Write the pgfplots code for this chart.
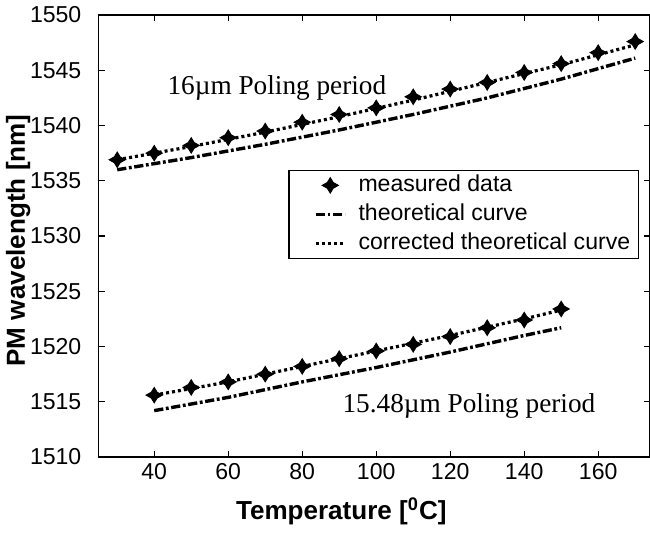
\documentclass[border=0pt]{standalone}
\usepackage{fontspec}
\setmainfont{Liberation Sans}
\newfontfamily\seriffont{Liberation Serif}
\usepackage{pgfplots}
\pgfplotsset{compat=1.18}

% four-pointed filled star used for the measured points
\pgfdeclareplotmark{mstar}{%
  \pgfpathmoveto{\pgfqpoint{0pt}{0.95\pgfplotmarksize}}%
  \pgfpathlineto{\pgfqpoint{0.36\pgfplotmarksize}{0.36\pgfplotmarksize}}%
  \pgfpathlineto{\pgfqpoint{\pgfplotmarksize}{0pt}}%
  \pgfpathlineto{\pgfqpoint{0.36\pgfplotmarksize}{-0.36\pgfplotmarksize}}%
  \pgfpathlineto{\pgfqpoint{0pt}{-0.95\pgfplotmarksize}}%
  \pgfpathlineto{\pgfqpoint{-0.36\pgfplotmarksize}{-0.36\pgfplotmarksize}}%
  \pgfpathlineto{\pgfqpoint{-\pgfplotmarksize}{0pt}}%
  \pgfpathlineto{\pgfqpoint{-0.36\pgfplotmarksize}{0.36\pgfplotmarksize}}%
  \pgfpathclose\pgfusepathqfillstroke}

\pgfplotsset{
  line leg/.style={legend image code/.code={\path (0pt,0pt) (29pt,0pt);\draw[##1] (8.5pt,0pt) -- (23pt,0pt);}},
  mark leg/.style={legend image code/.code={\path (0pt,0pt) (29pt,0pt);\draw[##1] plot coordinates {(15.75pt,0pt)};}},
}

\pgfplotstableread{
T lam
30 1536.9
40 1537.5
50 1538.2
60 1538.9
70 1539.5
80 1540.3
90 1541.0
100 1541.6
110 1542.6
120 1543.3
130 1543.9
140 1544.8
150 1545.6
160 1546.6
170 1547.6
}\measA
\pgfplotstableread{
T lam
30 1536.0
50 1537.1
70 1538.3
90 1539.6
110 1541.0
130 1542.5
150 1544.2
170 1546.1
}\theoA
\pgfplotstableread{
T lam
30 1536.9
50 1538.1
70 1539.4
90 1540.8
110 1542.3
130 1543.9
150 1545.5
170 1547.3
}\corrA
\pgfplotstableread{
T lam
40 1515.6
50 1516.3
60 1516.8
70 1517.5
80 1518.2
90 1518.9
100 1519.6
110 1520.2
120 1520.9
130 1521.7
140 1522.4
150 1523.4
}\measB
\pgfplotstableread{
T lam
40 1514.2
60 1515.4
80 1516.8
100 1518.1
120 1519.5
140 1521.0
150 1521.7
}\theoB
\pgfplotstableread{
T lam
40 1515.6
60 1516.8
80 1518.2
100 1519.6
120 1521.0
140 1522.5
150 1523.3
}\corrB

\tikzset{
  dotline/.style={black,line width=1.6pt,dash pattern=on 1.5pt off 1.5pt},
  dashdotline/.style={black,line width=1.7pt,dash pattern=on 4.6pt off 1.3pt on 1.4pt off 1.3pt},
}

\begin{document}
\begin{tikzpicture}
\begin{axis}[
  scale only axis, width=275pt, height=220.5pt,
  xmin=25, xmax=174, ymin=1510, ymax=1550,
  xtick={40,60,...,160}, ytick={1510,1515,...,1550},
  tick align=inside, major tick length=3pt,
  axis line style={line width=0.6pt},
  every tick/.style={black,line width=0.6pt},
  tick label style={font=\fontsize{11.5}{12}\selectfont},
  /pgf/number format/assume math mode=true,
  /pgf/number format/set thousands separator={},
  xticklabel style={inner sep=0pt,anchor=north,yshift=-3pt},
  yticklabel style={inner sep=0pt,anchor=east,xshift=-8.5pt},
  xlabel={Temperature [\textsuperscript{0}C]},
  xlabel style={at={(axis description cs:0.44,0)},anchor=base,yshift=-31pt,inner sep=0pt,
    font=\bfseries\fontsize{13}{14}\selectfont},
  ylabel={PM wavelength [nm]},
  ylabel style={at={(axis description cs:-0.146,0.49)},anchor=center,inner sep=0pt,
    font=\bfseries\fontsize{13}{14}\selectfont},
  legend cell align=left,
  legend style={at={(axis description cs:0.344,0.65)},anchor=north west,
    draw=black,line width=0.6pt,inner xsep=4pt,inner ysep=2pt,row sep=3.5pt,
    font=\fontsize{11.5}{12}\selectfont,
    nodes={inner sep=0pt,text height=8.5pt,text depth=2.5pt}},
  line leg,
]
\addplot[black,only marks,mark=mstar,mark size=4pt,mark options={fill=black,line width=0.5pt},mark leg]
  table[x=T,y=lam] {\measA};
\addlegendentry{measured data}
\addplot[dashdotline] table[x=T,y=lam] {\theoA};
\addlegendentry{theoretical curve}
\addplot[dotline] table[x=T,y=lam] {\corrA};
\addlegendentry{corrected theoretical curve}
\addplot[black,only marks,mark=mstar,mark size=4pt,mark options={fill=black,line width=0.5pt},forget plot]
  table[x=T,y=lam] {\measB};
\addplot[dashdotline,forget plot] table[x=T,y=lam] {\theoB};
\addplot[dotline,forget plot] table[x=T,y=lam] {\corrB};
\node[anchor=west,inner sep=0pt,font=\seriffont\fontsize{13.6}{14}\selectfont]
  at (axis cs:43.5,1543.4) {16µm Poling period};
\node[anchor=west,inner sep=0pt,font=\seriffont\fontsize{13.6}{14}\selectfont]
  at (axis cs:90.8,1514.6) {15.48µm Poling period};
\end{axis}
\pgfresetboundingbox
\path ([xshift=-49.25pt,yshift=-38pt]current axis.south west) ([yshift=7.5pt]current axis.north east);
\end{tikzpicture}
\end{document}
